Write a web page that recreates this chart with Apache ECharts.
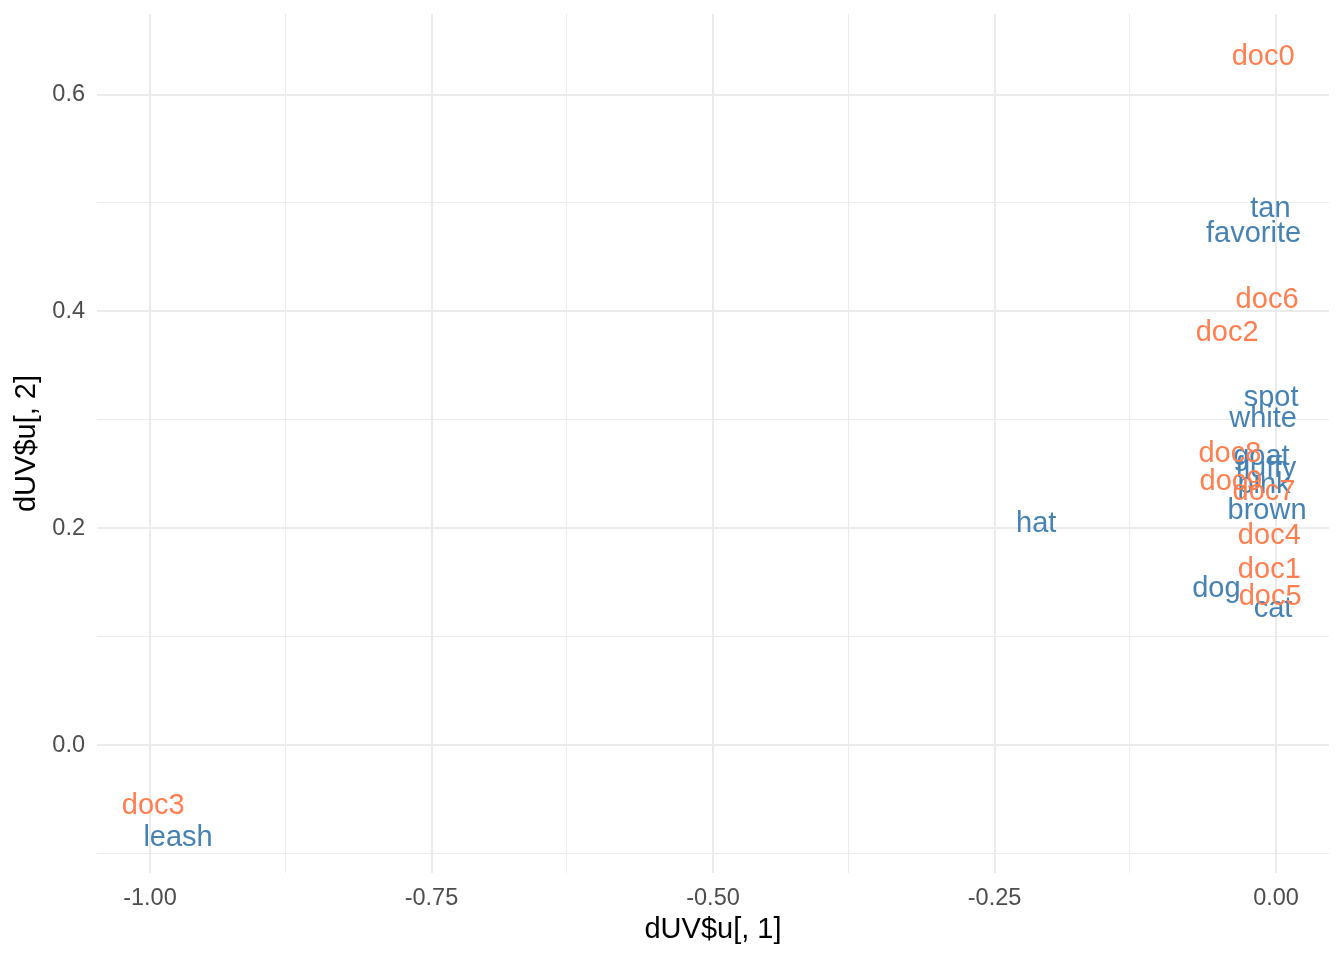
<!DOCTYPE html>
<html>
<head>
<meta charset="utf-8">
<script src="https://cdn.jsdelivr.net/npm/echarts@6/dist/echarts.min.js"></script>
<style>html,body{margin:0;padding:0;background:#fff}#c{width:1344px;height:960px}</style>
</head>
<body>
<div id="c"></div>
<script>
const docNames = ['doc0','doc1','doc2','doc3','doc4','doc5','doc6','doc7','doc8','doc9'];
const docX = [-0.0115, -0.006, -0.0435, -0.997, -0.006, -0.0053, -0.008, -0.0107, -0.041, -0.040];
const docY = [0.636, 0.163, 0.382, -0.054, 0.195, 0.138, 0.412, 0.235, 0.270, 0.244];

const termNames = ['tan','favorite','spot','white','goat','fluffy','pink','brown','hat','dog','cat','leash'];
const termX = [-0.005, -0.020, -0.0044, -0.0115, -0.013, -0.009, -0.0107, -0.008, -0.213, -0.053, -0.0027, -0.975];
const termY = [0.496, 0.473, 0.322, 0.302, 0.267, 0.256, 0.242, 0.218, 0.206, 0.146, 0.127, -0.084];

const xTicks = [-1.00, -0.75, -0.50, -0.25, 0.00];
const xMinor = [-0.875, -0.625, -0.375, -0.125];
const yTicks = [0.0, 0.2, 0.4, 0.6];
const yMinor = [-0.1, 0.1, 0.3, 0.5];

const X_MIN = -1.047, X_MAX = 0.047, Y_MIN = -0.118, Y_MAX = 0.674;

function pts(names, xs, ys) {
  return names.map((n, i) => ({ name: n, value: [xs[i], ys[i]] }));
}

const gridLines = [];
xMinor.forEach(v => gridLines.push({ xAxis: v, lineStyle: { color: '#ebebeb', width: 1, type: 'solid' } }));
yMinor.forEach(v => gridLines.push({ yAxis: v, lineStyle: { color: '#ebebeb', width: 1, type: 'solid' } }));
xTicks.forEach(v => gridLines.push({ xAxis: v, lineStyle: { color: '#ebebeb', width: 2, type: 'solid' } }));
yTicks.forEach(v => gridLines.push({ yAxis: v, lineStyle: { color: '#ebebeb', width: 2, type: 'solid' } }));

const labelBase = { show: true, position: 'inside', formatter: '{b}', fontSize: 29, offset: [0, 2], opacity: 1,
  fontFamily: 'Liberation Sans, Arial, sans-serif' };

const chart = echarts.init(document.getElementById('c'), null, { renderer: 'canvas' });
chart.setOption({
  animation: false,
  backgroundColor: '#ffffff',
  grid: { left: 97, right: 15, top: 14, bottom: 87, containLabel: false },
  xAxis: {
    type: 'value', min: X_MIN, max: X_MAX,
    name: 'dUV$u[, 1]', nameLocation: 'middle', nameGap: 42,
    nameTextStyle: { color: '#000', fontSize: 29, fontFamily: 'Liberation Sans, Arial, sans-serif' },
    axisLine: { show: false }, axisTick: { show: false, customValues: xTicks },
    splitLine: { show: false },
    axisLabel: { customValues: xTicks, margin: 14, color: '#4d4d4d', fontSize: 23.5,
      fontFamily: 'Liberation Sans, Arial, sans-serif', formatter: v => v.toFixed(2) }
  },
  yAxis: {
    type: 'value', min: Y_MIN, max: Y_MAX,
    name: 'dUV$u[, 2]', nameLocation: 'middle', nameGap: 56, nameRotate: 90,
    nameTextStyle: { color: '#000', fontSize: 29, fontFamily: 'Liberation Sans, Arial, sans-serif' },
    axisLine: { show: false }, axisTick: { show: false, customValues: yTicks },
    splitLine: { show: false },
    axisLabel: { customValues: yTicks, margin: 12, color: '#4d4d4d', fontSize: 23.5,
      fontFamily: 'Liberation Sans, Arial, sans-serif', formatter: v => v.toFixed(1) }
  },
  series: [
    {
      type: 'scatter', data: [], silent: true, z: 0,
      markLine: { silent: true, z: 0, symbol: ['none', 'none'], label: { show: false }, data: gridLines, animation: false }
    },
    {
      type: 'scatter', data: pts(termNames, termX, termY), symbolSize: 1, silent: true,
      itemStyle: { color: 'rgba(0,0,0,0)', opacity: 1 },
      label: Object.assign({}, labelBase, { color: '#4682b4' }), z: 10
    },
    {
      type: 'scatter', data: pts(docNames, docX, docY), symbolSize: 1, silent: true,
      itemStyle: { color: 'rgba(0,0,0,0)', opacity: 1 },
      label: Object.assign({}, labelBase, { color: '#ff7f50' }), z: 11
    }
  ]
});
</script>
</body>
</html>
